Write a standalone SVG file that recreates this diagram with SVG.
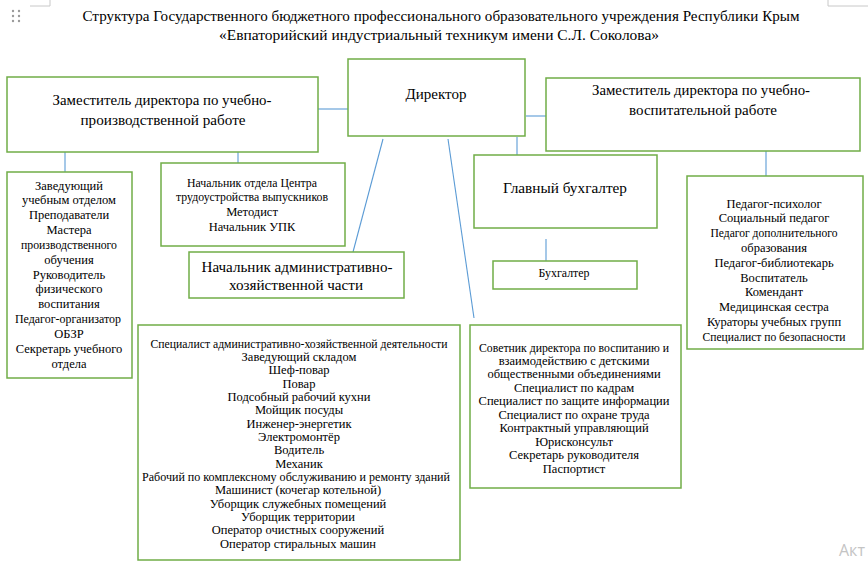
<svg xmlns="http://www.w3.org/2000/svg" width="868" height="569" viewBox="0 0 868 569" font-family="'Liberation Serif', 'Times New Roman', serif">
<style>
.box{fill:#fff;stroke:#70AD47;stroke-width:1.5}
.conn{stroke:#5B9BD5;stroke-width:1.1;fill:none}
text{font-family:"Liberation Serif","Times New Roman",serif;fill:#000;text-anchor:middle}
.t15{font-size:15px}
.t16{font-size:15.5px}
.t12{font-size:12.5px}
.mark{stroke:#c8c8c8;stroke-width:1;fill:none}
</style>
<rect width="868" height="569" fill="#fff"/>
<g id="page-marks">
<path class="mark" d="M30 6H50V0M828 0V6H868"/>
<g fill="#9a9a9a">
<circle cx="13" cy="11" r="1.2"/><circle cx="19" cy="11" r="1.2"/>
<circle cx="13" cy="16" r="1.2"/><circle cx="19" cy="16" r="1.2"/>
<circle cx="13" cy="21" r="1.2"/><circle cx="19" cy="21" r="1.2"/>
</g>
</g>
<g id="title">
<text class="t15" x="441" y="21" textLength="717" lengthAdjust="spacingAndGlyphs">Структура Государственного бюджетного профессионального образовательного учреждения Республики Крым</text>
<text class="t15" x="439" y="40" textLength="440" lengthAdjust="spacingAndGlyphs">«Евпаторийский индустриальный техникум имени С.Л. Соколова»</text>
</g>
<g id="connectors">
<line class="conn" x1="318" y1="109" x2="348" y2="109"/>
<line class="conn" x1="526" y1="116" x2="546" y2="116"/>
<line class="conn" x1="65" y1="152" x2="65" y2="172"/>
<line class="conn" x1="238" y1="152" x2="238" y2="163"/>
<line class="conn" x1="383" y1="139" x2="353" y2="252"/>
<line class="conn" x1="448" y1="139" x2="474" y2="318"/>
<line class="conn" x1="517" y1="137" x2="517" y2="155"/>
<line class="conn" x1="766" y1="151" x2="766" y2="176"/>
<line class="conn" x1="546" y1="239" x2="546" y2="261"/>
<line class="conn" x1="302" y1="338" x2="302" y2="350"/>
</g>
<g id="director">
<rect class="box" x="348" y="59" width="177" height="77"/>
<text class="t15" x="436" y="99" textLength="61" lengthAdjust="spacingAndGlyphs">Директор</text>
</g>
<g id="deputy-production">
<rect class="box" x="7" y="77" width="311" height="75"/>
<text class="t15" x="162" y="105" textLength="219" lengthAdjust="spacingAndGlyphs">Заместитель директора по учебно-</text>
<text class="t15" x="163" y="125" textLength="165" lengthAdjust="spacingAndGlyphs">производственной работе</text>
</g>
<g id="deputy-education">
<rect class="box" x="546" y="78" width="314" height="73"/>
<text class="t15" x="701" y="95" textLength="218" lengthAdjust="spacingAndGlyphs">Заместитель директора по учебно-</text>
<text class="t15" x="703" y="115" textLength="148" lengthAdjust="spacingAndGlyphs">воспитательной работе</text>
</g>
<g id="head-study">
<rect class="box" x="7" y="172" width="125" height="206"/>
<text class="t12" x="69" y="189.5">Заведующий</text>
<text class="t12" x="69" y="204.3">учебным отделом</text>
<text class="t12" x="69" y="219.2">Преподаватели</text>
<text class="t12" x="69" y="234">Мастера</text>
<text class="t12" x="69" y="248.8" textLength="96" lengthAdjust="spacingAndGlyphs">производственного</text>
<text class="t12" x="69" y="263.7">обучения</text>
<text class="t12" x="69" y="278.5">Руководитель</text>
<text class="t12" x="69" y="293.3">физического</text>
<text class="t12" x="69" y="308.2">воспитания</text>
<text class="t12" x="68" y="323" textLength="106" lengthAdjust="spacingAndGlyphs">Педагог-организатор</text>
<text class="t12" x="69" y="337.8">ОБЗР</text>
<text class="t12" x="69" y="352.7">Секретарь учебного</text>
<text class="t12" x="69" y="367.5">отдела</text>
</g>
<g id="head-employment">
<rect class="box" x="161" y="163" width="184" height="83"/>
<text class="t12" x="252" y="186.5" textLength="130" lengthAdjust="spacingAndGlyphs">Начальник  отдела Центра</text>
<text class="t12" x="252" y="201.2" textLength="152" lengthAdjust="spacingAndGlyphs">трудоустройства выпускников</text>
<text class="t12" x="252" y="215.9">Методист</text>
<text class="t12" x="252" y="230.6">Начальник УПК</text>
</g>
<g id="head-ahch">
<rect class="box" x="189" y="252" width="215" height="46"/>
<text class="t16" x="297" y="272" textLength="191" lengthAdjust="spacingAndGlyphs">Начальник административно-</text>
<text class="t16" x="296" y="290" textLength="134" lengthAdjust="spacingAndGlyphs">хозяйственной части</text>
</g>
<g id="chief-accountant">
<rect class="box" x="474" y="155" width="183" height="73"/>
<text class="t16" x="565" y="193" textLength="124" lengthAdjust="spacingAndGlyphs">Главный бухгалтер</text>
</g>
<g id="accountant">
<rect class="box" x="493" y="261" width="144" height="28"/>
<text class="t12" x="564" y="277" textLength="51" lengthAdjust="spacingAndGlyphs">Бухгалтер</text>
</g>
<g id="education-staff">
<rect class="box" x="687" y="176" width="176" height="173"/>
<text class="t12" x="774" y="207.5">Педагог-психолог</text>
<text class="t12" x="774" y="222.3">Социальный педагог</text>
<text class="t12" x="774" y="237.1" textLength="127" lengthAdjust="spacingAndGlyphs">Педагог дополнительного</text>
<text class="t12" x="774" y="251.9">образования</text>
<text class="t12" x="774" y="266.7">Педагог-библиотекарь</text>
<text class="t12" x="774" y="281.5">Воспитатель</text>
<text class="t12" x="774" y="296.3">Комендант</text>
<text class="t12" x="774" y="311.1">Медицинская сестра</text>
<text class="t12" x="774" y="325.9">Кураторы учебных групп</text>
<text class="t12" x="774" y="340.7" textLength="143" lengthAdjust="spacingAndGlyphs">Специалист по безопасности</text>
</g>
<g id="ahch-staff">
<rect class="box" x="138" y="325" width="322" height="235"/>
<text class="t12" x="299" y="347.5" textLength="297" lengthAdjust="spacingAndGlyphs">Специалист административно-хозяйственной деятельности</text>
<text class="t12" x="299" y="360.8">Заведующий складом</text>
<text class="t12" x="299" y="374.2">Шеф-повар</text>
<text class="t12" x="299" y="387.5">Повар</text>
<text class="t12" x="299" y="400.8">Подсобный рабочий кухни</text>
<text class="t12" x="299" y="414.2">Мойщик посуды</text>
<text class="t12" x="299" y="427.5">Инженер-энергетик</text>
<text class="t12" x="299" y="440.8">Электромонтёр</text>
<text class="t12" x="299" y="454.1">Водитель</text>
<text class="t12" x="299" y="467.5">Механик</text>
<text class="t12" x="296" y="480.8" textLength="308" lengthAdjust="spacingAndGlyphs">Рабочий по комплексному обслуживанию и ремонту зданий</text>
<text class="t12" x="298" y="494.1">Машинист (кочегар котельной)</text>
<text class="t12" x="298" y="507.5">Уборщик служебных помещений</text>
<text class="t12" x="298" y="520.8">Уборщик территории</text>
<text class="t12" x="298" y="534.1">Оператор очистных сооружений</text>
<text class="t12" x="298" y="547.5">Оператор стиральных машин</text>
</g>
<g id="director-staff">
<rect class="box" x="470" y="325" width="211" height="163"/>
<text class="t12" x="574" y="351.5" textLength="190" lengthAdjust="spacingAndGlyphs">Советник директора по воспитанию и</text>
<text class="t12" x="574" y="364.9">взаимодействию с детскими</text>
<text class="t12" x="574" y="378.4">общественными объединениями</text>
<text class="t12" x="574" y="391.8">Специалист по кадрам</text>
<text class="t12" x="574" y="405.3">Специалист по защите информации</text>
<text class="t12" x="574" y="418.7">Специалист по охране труда</text>
<text class="t12" x="574" y="432.1">Контрактный управляющий</text>
<text class="t12" x="574" y="445.6">Юрисконсульт</text>
<text class="t12" x="574" y="459">Секретарь руководителя</text>
<text class="t12" x="574" y="472.5">Паспортист</text>
</g>
<text x="839" y="556" style="font-family:'Open Sans','DejaVu Sans',sans-serif;font-size:16px;fill:#c4c4c4;text-anchor:start">Акт</text>
</svg>
